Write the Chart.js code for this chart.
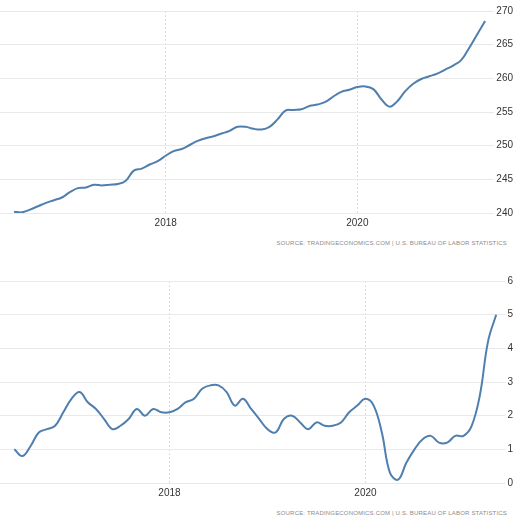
<!DOCTYPE html>
<html lang="en">
<head>
    <meta charset="UTF-8">
    <title>US CPI and Inflation Rate</title>
    <script src="https://cdn.jsdelivr.net/npm/chart.js"></script>
    <style>
        body {
            margin: 0;
            padding: 0;
            background: #fff;
            width: 525px;
            height: 524px;
            position: relative;
            overflow: hidden;
            font-family: "Liberation Sans", Arial, sans-serif;
        }

        .chart-box {
            position: absolute;
            left: 0;
            width: 525px;
            height: 235px;
        }

        .source {
            position: absolute;
            right: 18px;
            font-size: 6px;
            letter-spacing: 0.18px;
            color: #8a8a8a;
            white-space: nowrap;
        }
    </style>
</head>
<body>
    <div class="chart-box" style="top: 0;"><canvas id="cpiChart" width="525" height="235"></canvas></div>
    <div class="source" style="top: 240px;">SOURCE: TRADINGECONOMICS.COM | U.S. BUREAU OF LABOR STATISTICS</div>

    <div class="chart-box" style="top: 270px;"><canvas id="inflationChart" width="525" height="235"></canvas></div>
    <div class="source" style="top: 510px;">SOURCE: TRADINGECONOMICS.COM | U.S. BUREAU OF LABOR STATISTICS</div>

    <script>
        // monthly, Jun 2016 .. May 2021
        const cpiValues = [
            240.2, 240.1, 240.5, 241.0, 241.5, 241.9, 242.3,
            243.1, 243.7, 243.8, 244.2, 244.1, 244.2, 244.3, 244.8, 246.3, 246.6, 247.2, 247.7,
            248.5, 249.2, 249.5, 250.1, 250.7, 251.1, 251.4, 251.8, 252.2, 252.8, 252.8, 252.5,
            252.4, 252.8, 253.9, 255.2, 255.3, 255.4, 255.9, 256.1, 256.5, 257.3, 258.0, 258.3,
            258.7, 258.8, 258.4, 256.9, 255.8, 256.6, 258.1, 259.2, 259.9, 260.3, 260.7, 261.3,
            261.9, 262.7, 264.5, 266.5, 268.5
        ];
        const inflationValues = [
            1.0, 0.8, 1.1, 1.5, 1.6, 1.7, 2.1,
            2.5, 2.7, 2.4, 2.2, 1.9, 1.6, 1.7, 1.9, 2.2, 2.0, 2.2, 2.1,
            2.1, 2.2, 2.4, 2.5, 2.8, 2.9, 2.9, 2.7, 2.3, 2.5, 2.2, 1.9,
            1.6, 1.5, 1.9, 2.0, 1.8, 1.6, 1.8, 1.7, 1.7, 1.8, 2.1, 2.3,
            2.5, 2.3, 1.5, 0.3, 0.1, 0.6, 1.0, 1.3, 1.4, 1.2, 1.2, 1.4,
            1.4, 1.7, 2.6, 4.2, 5.0
        ];
        const yearLabels = ['2018', '2020'];
        const yearIndex = [19, 43];   // Jan 2018, Jan 2020 in the month series
        const cpiTicks = [240, 245, 250, 255, 260, 265, 270];
        const inflationTicks = [0, 1, 2, 3, 4, 5, 6];

        const lineColor = '#4f7fae';

        function makeChart(id, values, yTicks) {
            const ctx = document.getElementById(id).getContext('2d');
            return new Chart(ctx, {
                type: 'line',
                data: {
                    datasets: [{
                        data: values.map((v, i) => ({ x: i, y: v })),
                        borderColor: lineColor,
                        borderWidth: 2,
                        pointRadius: 0,
                        fill: false,
                        tension: 0.4
                    }]
                },
                options: {
                    responsive: false,
                    animation: false,
                    devicePixelRatio: 1,
                    layout: { padding: { top: 11, bottom: 2, left: 0, right: 10 } },
                    plugins: {
                        legend: { display: false },
                        tooltip: { enabled: false }
                    },
                    scales: {
                        x: {
                            type: 'linear',
                            min: -1.75,
                            max: 59.4,
                            afterBuildTicks: axis => {
                                axis.ticks = yearIndex.map(v => ({ value: v }));
                            },
                            ticks: {
                                callback: v => yearLabels[yearIndex.indexOf(v)],
                                color: '#333',
                                font: { family: 'Liberation Sans', size: 10 },
                                padding: 4,
                                maxRotation: 0
                            },
                            grid: {
                                color: '#dcdcdc',
                                drawTicks: false
                            },
                            border: { display: false, dash: [2, 2] }
                        },
                        y: {
                            position: 'right',
                            min: yTicks[0],
                            max: yTicks[yTicks.length - 1],
                            afterBuildTicks: axis => {
                                axis.ticks = yTicks.map(v => ({ value: v }));
                            },
                            ticks: {
                                color: '#333',
                                font: { family: 'Liberation Sans', size: 10 },
                                padding: 2
                            },
                            grid: {
                                color: '#e9e9e9',
                                tickLength: 6
                            },
                            border: { display: false }
                        }
                    }
                }
            });
        }

        makeChart('cpiChart', cpiValues, cpiTicks);
        makeChart('inflationChart', inflationValues, inflationTicks);
    </script>
</body>
</html>
